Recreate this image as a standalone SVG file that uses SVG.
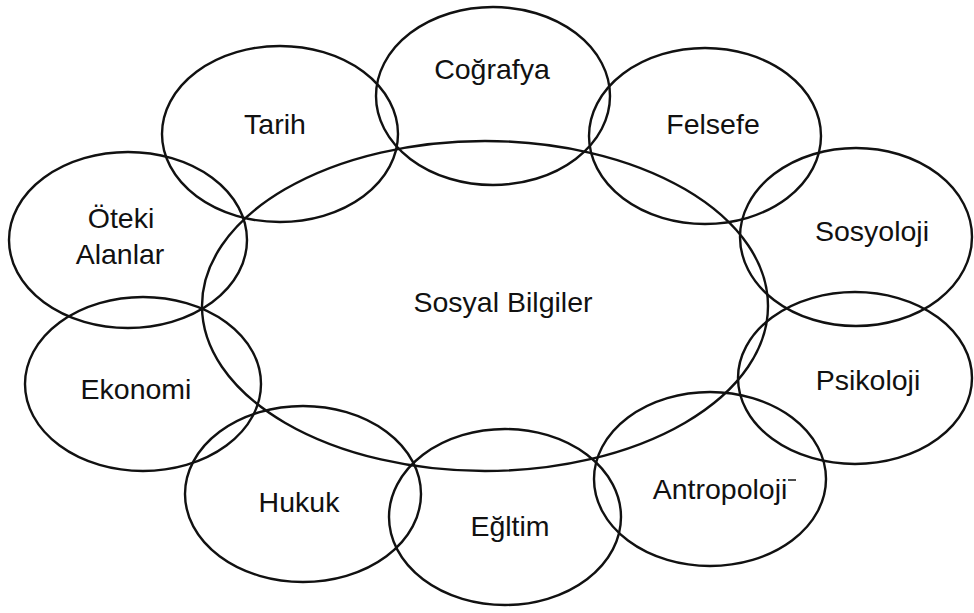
<svg xmlns="http://www.w3.org/2000/svg" width="974" height="613" viewBox="0 0 974 613">
<style>
.e{fill:none;stroke:#111;stroke-width:2.4}
.t{font-family:"Liberation Sans",Arial,sans-serif;font-size:28.5px;fill:#111;text-anchor:middle}
</style>
<rect width="974" height="613" fill="#fff"/>
<g id="center"><ellipse class="e" cx="485" cy="306" rx="283" ry="165"/><text class="t" x="503" y="312">Sosyal Bilgiler</text></g>
<g id="cografya"><ellipse class="e" cx="493" cy="96" rx="117" ry="89"/><text class="t" x="492" y="79">Coğrafya</text></g>
<g id="tarih"><ellipse class="e" cx="280" cy="134" rx="118" ry="88"/><text class="t" x="275" y="134">Tarih</text></g>
<g id="felsefe"><ellipse class="e" cx="705" cy="136" rx="116" ry="88"/><text class="t" x="713" y="134">Felsefe</text></g>
<g id="oteki"><ellipse class="e" cx="128" cy="240" rx="119" ry="88"/><text class="t" x="121" y="228">Öteki</text><text class="t" x="120" y="264">Alanlar</text></g>
<g id="sosyoloji"><ellipse class="e" cx="856" cy="237" rx="116" ry="89"/><text class="t" x="872" y="241">Sosyoloji</text></g>
<g id="ekonomi"><ellipse class="e" cx="143" cy="384" rx="118" ry="87"/><text class="t" x="136" y="399">Ekonomi</text></g>
<g id="psikoloji"><ellipse class="e" cx="855" cy="378" rx="117" ry="86"/><text class="t" x="868" y="390">Psikoloji</text></g>
<g id="hukuk"><ellipse class="e" cx="303" cy="494" rx="118" ry="88"/><text class="t" x="299" y="512">Hukuk</text></g>
<g id="egitim"><ellipse class="e" cx="505" cy="517" rx="116" ry="88"/><text class="t" x="510" y="536">Eğltim</text></g>
<g id="antropoloji"><ellipse class="e" cx="710" cy="479" rx="116" ry="87"/><text class="t" x="720" y="499">Antropoloji</text><path d="M788 480 H796" stroke="#111" stroke-width="1.5"/></g>
<g id="connectors"/>
</svg>
